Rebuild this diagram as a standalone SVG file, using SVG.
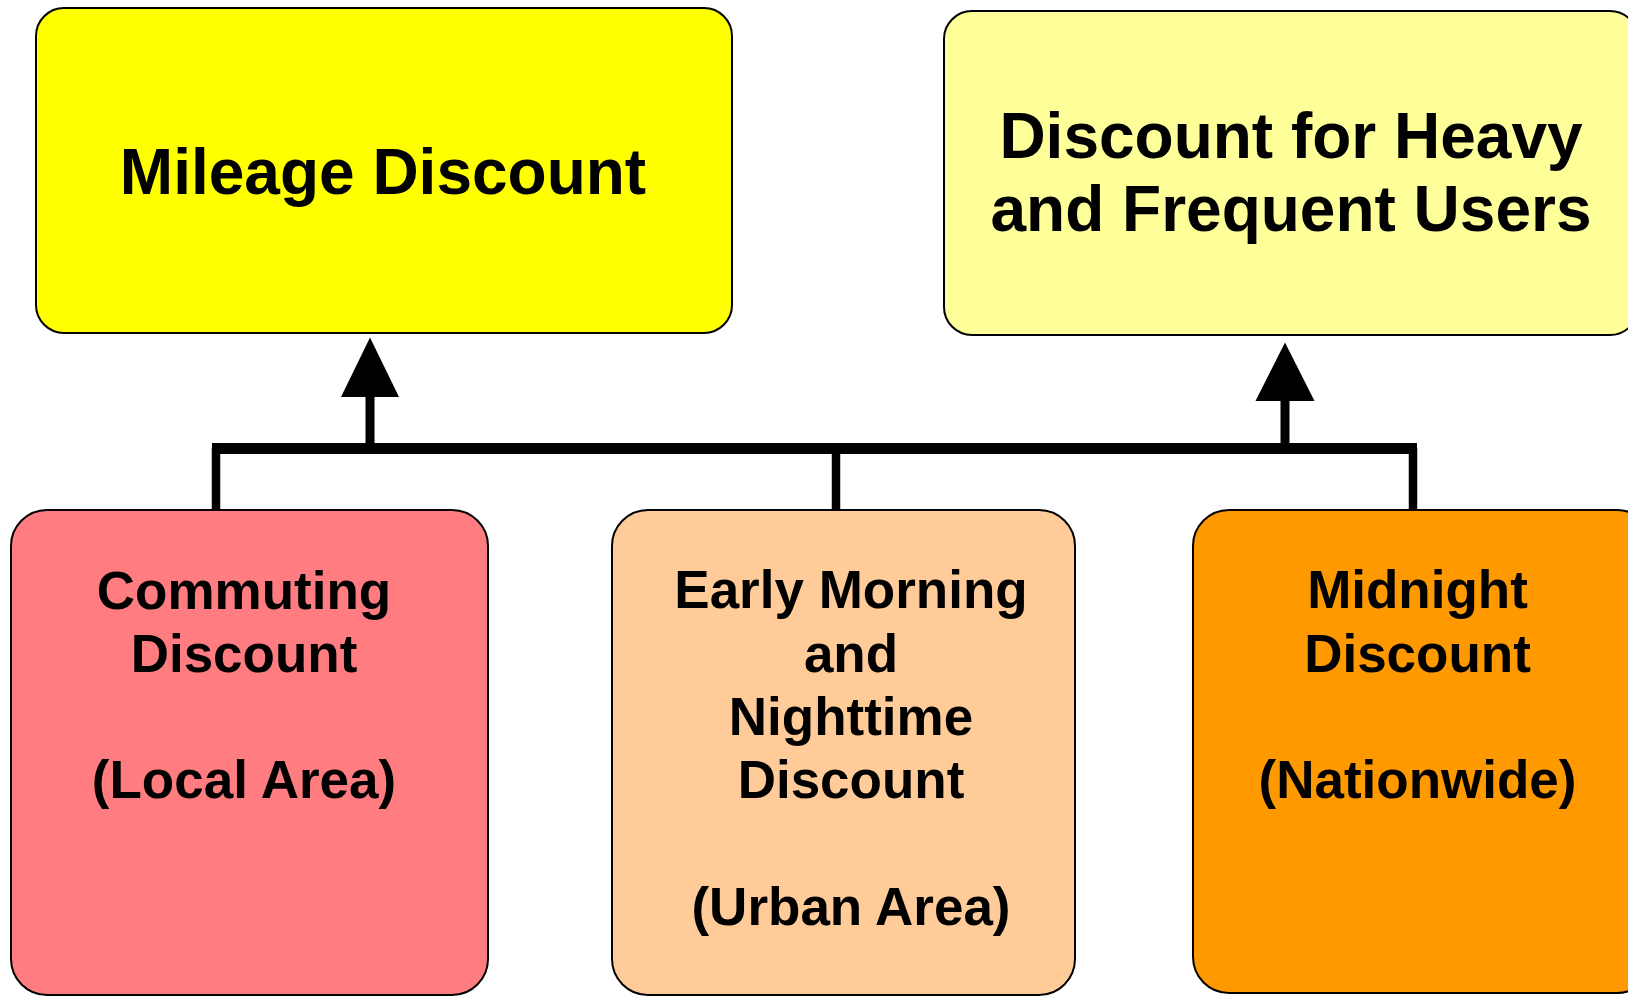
<svg xmlns="http://www.w3.org/2000/svg" width="1628" height="996" viewBox="0 0 1628 996">
<style>
.box{stroke:#000;stroke-width:2}
.t{font-family:"Liberation Sans",Arial,sans-serif;font-weight:bold;fill:#000;text-anchor:middle}
.big{font-size:64px}
.sm{font-size:53px}
.ln{stroke:#000;fill:none}
</style>
<rect width="1628" height="996" fill="#fff"/>
<g id="connectors">
<line class="ln" x1="212" y1="448.5" x2="1417" y2="448.5" stroke-width="11"/>
<line class="ln" x1="216" y1="448" x2="216" y2="511" stroke-width="8.5"/>
<line class="ln" x1="836" y1="448" x2="836" y2="511" stroke-width="8.5"/>
<line class="ln" x1="1413" y1="448" x2="1413" y2="511" stroke-width="8.5"/>
<line class="ln" x1="370" y1="449" x2="370" y2="395" stroke-width="9"/>
<polygon points="370,337.5 399,397 341,397" fill="#000"/>
<line class="ln" x1="1285" y1="449" x2="1285" y2="399" stroke-width="9"/>
<polygon points="1285,342.5 1314.5,401 1255.5,401" fill="#000"/>
</g>
<g id="mileage">
<rect class="box" x="36" y="8" width="696" height="325" rx="28" ry="28" fill="#FFFF00"/>
<text class="t big" x="383" y="194">Mileage Discount</text>
</g>
<g id="heavy">
<rect class="box" x="944" y="11" width="694" height="324" rx="28" ry="28" fill="#FFFF99"/>
<text class="t big" x="1291" y="158">Discount for Heavy</text>
<text class="t big" x="1291" y="231">and Frequent Users</text>
</g>
<g id="commuting">
<rect class="box" x="11" y="510" width="477" height="485" rx="36" ry="36" fill="#FF7C80"/>
<text class="t sm" x="244" y="609">Commuting</text>
<text class="t sm" x="244" y="672">Discount</text>
<text class="t sm" x="244" y="798">(Local Area)</text>
</g>
<g id="early">
<rect class="box" x="612" y="510" width="463" height="485" rx="36" ry="36" fill="#FFCC99"/>
<text class="t sm" x="851" y="608">Early Morning</text>
<text class="t sm" x="851" y="671.5">and</text>
<text class="t sm" x="851" y="735">Nighttime</text>
<text class="t sm" x="851" y="798">Discount</text>
<text class="t sm" x="851" y="925">(Urban Area)</text>
</g>
<g id="midnight">
<rect class="box" x="1193" y="510" width="460" height="483" rx="36" ry="36" fill="#FF9900"/>
<text class="t sm" x="1417.5" y="608">Midnight</text>
<text class="t sm" x="1417.5" y="672">Discount</text>
<text class="t sm" x="1417.5" y="798">(Nationwide)</text>
</g>
</svg>
